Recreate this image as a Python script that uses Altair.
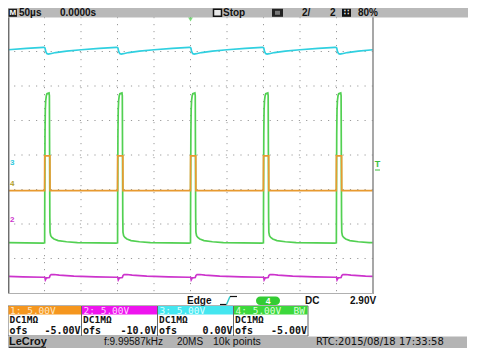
import altair as alt
import pandas as pd

# ---------------- data ----------------
# pulse rising-edge times (µs), trigger at 0 (centre of screen)
PULSE_T = [-299.6, -199.8, -99.9, 0.0, 99.9, 199.8]

# one pulse period, time offsets (µs) and voltages (V) per channel
GREEN_DT = [-1.0, 0.0, 0.2, 0.5, 0.9, 1.5, 2.3, 3.2, 6.0, 6.5, 6.8, 7.1, 7.4, 8.3, 10.0, 12.8, 18.5, 30.0, 45.0, 98.0]
GREEN_V = [-7.75, -7.72, 0.0, 8.0, 11.5, 12.9, 13.6, 13.9, 14.0, 13.6, 5.0, -4.0, -6.2, -6.7, -6.95, -7.17, -7.4, -7.57, -7.7, -7.78]

ORANGE_DT = [-1.0, -0.1, 0.1, 7.2, 7.4, 98.0]
ORANGE_V = [-0.17, -0.17, 4.86, 4.86, -0.17, -0.17]

CYAN_DT = [-1.0, 0.5, 1.5, 3.0, 5.0, 8.0, 15.0, 30.0, 50.0, 75.0, 98.0]
CYAN_V = [15.6, 15.5, 15.0, 14.7, 14.62, 14.68, 14.85, 15.05, 15.25, 15.45, 15.6]

MAGENTA_DT = [-1.0, 0.3, 1.0, 2.5, 6.5, 7.5, 9.0, 13.0, 20.0, 40.0, 70.0, 98.0]
MAGENTA_V = [-7.72, -7.75, -8.1, -7.8, -7.75, -7.45, -7.33, -7.32, -7.4, -7.55, -7.65, -7.72]

CHANNELS = ["1", "2", "3", "4"]
CH_OFS = [-5.0, -10.0, 0.0, -5.0]       # offsets (V)
CH_VDIV = [5.0, 5.0, 5.0, 5.0]          # V/div
CH_COLORS = ["#e89a30", "#cc33cc", "#30d0e0", "#52d052"]
CH_BOX = ["#f5961e", "#ee14ee", "#44e6ef", "#3cd83c"]
CH_BOX_TEXT = ["#fde6c4", "#ffd6ff", "#dcffff", "#dcffdc"]
CH_HEAD = ["1: 5.00V", "2: 5.00V", "3: 5.00V", "4: 5.00V"]
CH_OFS_TXT = ["-5.00V", "-10.0V", "0.00V", "-5.00V"]

GRID_X = [-200, -150, -100, -50, 0, 50, 100, 150, 200]
GRID_Y = [-3, -2, -1, 0, 1, 2, 3]

HEADER = ["50µs", "0.0000s", "Stop", "2/", "2", "80%"]
STATUS = ["LeCroy", "f:9.99587kHz", "20MS", "10k points", "RTC:2015/08/18 17:33:58"]
TRIG = ["Edge", "4", "DC", "2.90V"]

# ---------------- build trace table ----------------
templates = {"1": (ORANGE_DT, ORANGE_V), "2": (MAGENTA_DT, MAGENTA_V),
             "3": (CYAN_DT, CYAN_V), "4": (GREEN_DT, GREEN_V)}
rows = []
for ch, ofs, vd in zip(CHANNELS, CH_OFS, CH_VDIV):
    dts, vs = templates[ch]
    for p in PULSE_T:
        for dt, v in zip(dts, vs):
            rows.append({"ch": ch, "t": p + dt, "v": v, "ofs": ofs, "vdiv": vd, "i": len(rows)})
traces = pd.DataFrame(rows)

XS = alt.Scale(domain=[-250, 250], nice=False, zero=False)
YS = alt.Scale(domain=[-4, 4], nice=False, zero=False)

ONE = pd.DataFrame({"k": [0]})
OX, OY = 8, 17   # page position of plot origin


def T(s, x, y, size=10, color="#111", font="Liberation Sans", weight="bold", align="left"):
    return alt.Chart(ONE).mark_text(text=s, align=align, baseline="middle", fontSize=size,
                                    font=font, fontWeight=weight, color=color).encode(
        x=alt.value(x - OX), y=alt.value(y - OY))


def R(x1, y1, x2, y2, fill, stroke=None, sw=1.0, radius=0):
    kw = {"fill": fill}
    if stroke:
        kw["stroke"] = stroke
        kw["strokeWidth"] = sw
    if radius:
        kw["cornerRadius"] = radius
    return alt.Chart(ONE).mark_rect(**kw).encode(
        x=alt.value(x1 - OX), x2=alt.value(x2 - OX), y=alt.value(y1 - OY), y2=alt.value(y2 - OY))


def L(x1, y1, x2, y2, color, w=1.0):
    return alt.Chart(ONE).mark_rule(color=color, strokeWidth=w).encode(
        x=alt.value(x1 - OX), x2=alt.value(x2 - OX), y=alt.value(y1 - OY), y2=alt.value(y2 - OY))


layers = []
# grid
layers.append(alt.Chart(pd.DataFrame({"g": GRID_X})).mark_rule(strokeDash=[1.2, 5.8], color="#9a9a9a").encode(
    x=alt.X("g:Q", scale=XS, axis=None)))
layers.append(alt.Chart(pd.DataFrame({"g": GRID_Y})).mark_rule(strokeDash=[1.2, 6.1], color="#9a9a9a").encode(
    y=alt.Y("g:Q", scale=YS, axis=None)))

# traces
for ch in ["3", "2", "4", "1"]:
    col = CH_COLORS[CHANNELS.index(ch)]
    layers.append(alt.Chart(traces).transform_filter(alt.datum.ch == ch).transform_calculate(
        div="datum.v / datum.vdiv + datum.ofs / datum.vdiv").mark_line(
        clip=True, color=col, strokeWidth=1.7).encode(
        x=alt.X("t:Q", scale=XS, axis=None), y=alt.Y("div:Q", scale=YS, axis=None),
        order=alt.Order("i:Q")))

# frame
layers.append(L(8.7, 17, 8.7, 294, "#6e6e6e", 1.5))
layers.append(L(373, 17, 373, 294, "#8a8a8a", 1.5))
layers.append(L(8, 293.5, 373, 293.5, "#b0b0b0", 1))

# header bar
layers.append(R(8, 8, 468, 17.5, "#b9b9b9"))
layers.append(R(8.5, 8.8, 17, 16.8, "#1c1c1c"))
layers.append(T("M", 12.8, 13, size=8, color="#ffffff", align="center"))
layers.append(T(HEADER[0], 19, 13.2, size=10))
layers.append(T(HEADER[1], 60, 13.2, size=10))
layers.append(R(213.5, 9.3, 221.5, 16.3, "#e8e8e8", stroke="#111", sw=1.5))
layers.append(T(HEADER[2], 223, 13.2, size=10))
layers.append(R(272, 8.8, 283, 16.8, "#222"))
layers.append(R(275, 10.8, 280, 14.8, "#777"))
layers.append(T(HEADER[3], 302, 13.2, size=10))
layers.append(T(HEADER[4], 330, 13.2, size=10))
layers.append(R(342, 8.8, 351, 16.8, "#111"))
layers.append(T("∷", 346.5, 12.8, size=8, color="#fff", align="center"))
layers.append(T(HEADER[5], 358, 13.2, size=10))

# trigger markers
layers.append(alt.Chart(ONE).mark_point(shape="triangle-down", filled=True, size=22, color="#44cc44").encode(
    x=alt.value(190.5 - OX), y=alt.value(19.5 - OY)))
layers.append(T("T", 377.5, 164, size=9, color="#3cbf3c", align="center"))
layers.append(L(375, 170, 380, 170, "#3cbf3c", 1))

# channel ground markers on the left
layers.append(T("3", 10, 163, size=8, color="#30c8dc"))
layers.append(T("4", 10, 184, size=8, color="#b0a030"))
layers.append(T("2", 10, 220, size=8, color="#cc33cc"))

# trigger info row
layers.append(T(TRIG[0], 187, 300.5, size=10))
layers.append(L(220, 304.5, 226.5, 304.5, "#111", 1.2))
layers.append(L(226.5, 304.5, 230, 296.5, "#30c8c8", 1.4))
layers.append(L(230, 296.5, 237, 296.5, "#111", 1.2))
layers.append(R(256, 296.5, 280, 305, "#33cc33", radius=4.5))
layers.append(T(TRIG[1], 268, 301, size=8.5, color="#ffffff", align="center"))
layers.append(T(TRIG[2], 305, 300.5, size=10))
layers.append(T(TRIG[3], 350, 300.5, size=10))

# channel boxes
XB = [(8, 81.5), (81.5, 157.5), (157.5, 233.5), (233.5, 308)]
for k, (x1, x2) in enumerate(XB):
    layers.append(R(x1, 306, x2, 336, "#ffffff", stroke="#666", sw=1))
    layers.append(R(x1 + 0.5, 306, x2 - 0.5, 314.5, CH_BOX[k]))
    layers.append(T(CH_HEAD[k], x1 + 2, 310.5, size=9.5, font="DejaVu Sans Mono", weight="normal",
                    color=CH_BOX_TEXT[k]))
    layers.append(T("DC1MΩ", x1 + 1.5, 320, size=9.5, font="DejaVu Sans Mono"))
    layers.append(T("ofs", x1 + 1.5, 330.5, size=10, font="DejaVu Sans Mono"))
    layers.append(T(CH_OFS_TXT[k], x2 - 1, 330.5, size=10, font="DejaVu Sans Mono", align="right"))
layers.append(T("BW", 305, 310.5, size=9.5, font="DejaVu Sans Mono", weight="normal",
                color=CH_BOX_TEXT[3], align="right"))

# status bar
layers.append(R(8, 336.5, 467, 348, "#b4b4b4"))
layers.append(T(STATUS[0], 9, 342, size=11))
layers.append(L(9, 347.3, 46, 347.3, "#222", 1))
layers.append(T(STATUS[1], 104, 342, size=10, weight="normal"))
layers.append(T(STATUS[2], 177, 342, size=10, weight="normal"))
layers.append(T(STATUS[3], 213, 342, size=10.5, weight="normal"))
layers.append(T(STATUS[4], 316, 342, size=10, font="DejaVu Sans", weight="normal"))

chart = alt.layer(*layers).properties(
    width=365, height=276,
    autosize=alt.AutoSizeParams(type="none"),
    padding={"left": 0, "top": 9, "right": 96, "bottom": 55},
    background="#ffffff",
).configure_view(stroke=None)

chart.save("out.html", embed_options={"renderer": "svg", "actions": False})
